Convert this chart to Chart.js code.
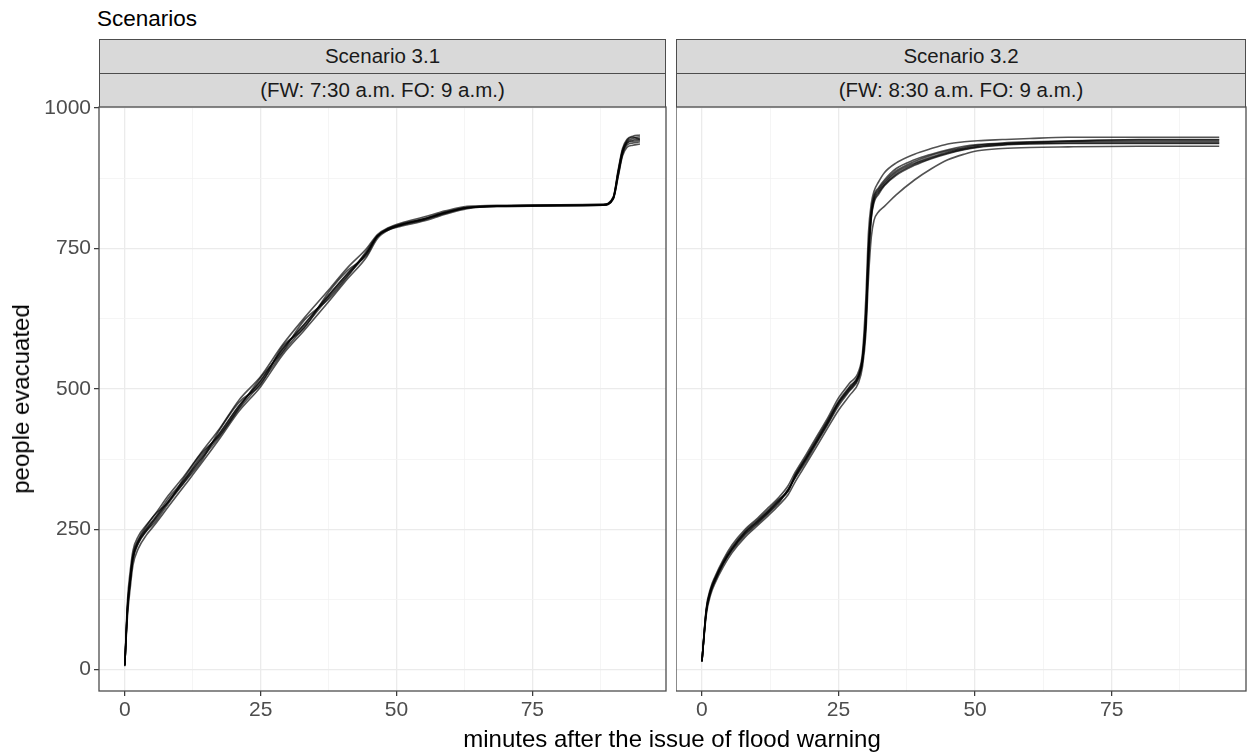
<!DOCTYPE html>
<html>
  <head>
    <meta charset="utf-8">
    <style>
      body { margin: 0; background: #fff; font-family: "Liberation Sans", Arial, sans-serif; }
      #page { position: relative; width: 1247px; height: 754px; overflow: hidden; }
      .strip { position: absolute; box-sizing: border-box; background: #d9d9d9; border: 1px solid #4d4d4d;
               color: #1a1a1a; font-size: 20.5px; text-align: center; line-height: 32px; }
      .abs { position: absolute; }
    </style>
  </head>
  <body>
    <div id="page">
      <div class="abs" style="left:97px;top:6px;font-size:22.5px;color:#000">Scenarios</div>

      <div class="strip" style="left:99px;top:39px;width:567px;height:35px">Scenario 3.1</div>
      <div class="strip" style="left:99px;top:73px;width:567px;height:35px">(FW: 7:30 a.m. FO: 9 a.m.)</div>
      <div class="strip" style="left:676px;top:39px;width:570px;height:35px">Scenario 3.2</div>
      <div class="strip" style="left:676px;top:73px;width:570px;height:35px">(FW: 8:30 a.m. FO: 9 a.m.)</div>

      <div class="abs" style="left:0;top:80px"><canvas id="panel31" width="672" height="660"></canvas></div>
      <div class="abs" style="left:676px;top:80px"><canvas id="panel32" width="571" height="660"></canvas></div>

      <div class="abs" style="left:21px;top:399px;font-size:24px;white-space:nowrap;transform:translate(-50%,-50%) rotate(-90deg)">people evacuated</div>
      <div class="abs" style="left:672px;top:739px;font-size:24px;white-space:nowrap;transform:translate(-50%,-50%)">minutes after the issue of flood warning</div>
    </div>

    <script src="https://cdn.jsdelivr.net/npm/chart.js@4"></script>
    <script>
      // axis ticks (majors get labels, the in-between ones are minor grid lines)
      var xTicks = [0, 12.5, 25, 37.5, 50, 62.5, 75, 87.5];
      var yTicks = [0, 125, 250, 375, 500, 625, 750, 875, 1000];

      // Scenario 3.1 - minutes and people evacuated, one array per run
      var minutes31 = [0, 0.5, 1, 1.5, 2.5, 4, 5.5, 8, 11, 14, 17.5, 21, 25, 29, 33, 37.5, 41, 44.5, 46.5, 48.5, 51, 55, 59, 63, 70, 80, 88, 89.9, 90.8, 91.6, 92.4, 93.5, 94.8];
      var run31a = [8, 110, 160, 200, 228, 250, 268, 300, 338, 376, 422, 470, 514, 570, 614, 666, 705, 742, 772, 785, 793, 802, 814, 823, 826, 827, 828, 840, 885, 922, 938, 943, 946];
      var run31b = [6, 124, 176, 212, 238, 258, 276, 310, 346, 386, 430, 480, 522, 578, 626, 676, 716, 750, 775, 787, 796, 806, 817, 825, 827, 828, 829, 842, 890, 928, 944, 950, 952];
      var run31c = [10, 96, 146, 186, 216, 240, 258, 290, 328, 366, 412, 460, 504, 560, 604, 655, 696, 735, 768, 783, 790, 799, 811, 821, 826, 827, 827, 838, 878, 915, 930, 934, 936];
      var run31d = [7, 115, 165, 205, 232, 256, 276, 298, 343, 384, 418, 466, 520, 566, 622, 660, 700, 746, 773, 786, 794, 803, 815, 823, 825, 826, 827, 841, 888, 925, 940, 946, 949];
      var run31e = [9, 105, 158, 198, 226, 248, 262, 296, 334, 370, 428, 476, 508, 575, 608, 672, 711, 738, 771, 783, 792, 801, 813, 822, 826, 827, 828, 839, 882, 918, 934, 938, 940];
      var run31f = [8, 112, 163, 202, 230, 252, 270, 305, 339, 380, 421, 469, 515, 571, 615, 667, 706, 743, 772, 785, 793, 803, 814, 823, 826, 827, 828, 840, 886, 924, 942, 948, 944];
      var run31g = [8, 108, 157, 196, 225, 247, 266, 299, 335, 374, 416, 464, 510, 564, 610, 663, 702, 741, 772, 784, 792, 801, 813, 822, 825, 826, 827, 839, 880, 920, 937, 941, 943];

      // Scenario 3.2
      var minutes32 = [0, 0.8, 1.6, 2.4, 3.9, 5.5, 7.9, 10, 12.1, 14, 15.8, 17.1, 19, 20.8, 23, 25, 27, 28.7, 29.4, 30, 30.5, 31, 31.5, 32.3, 33.4, 35.5, 38.9, 42, 45, 48, 50.5, 55, 60, 67, 80, 94.7];
      var run32a = [15, 105, 140, 160, 190, 215, 244, 262, 281, 300, 320, 345, 375, 404, 440, 475, 500, 523, 552, 620, 740, 810, 838, 852, 866, 885, 902, 913, 922, 928, 932, 936, 938, 940, 940, 940];
      var run32b = [14, 110, 146, 166, 196, 222, 250, 268, 288, 306, 328, 352, 382, 412, 448, 484, 510, 532, 565, 660, 780, 830, 852, 868, 885, 902, 918, 928, 936, 940, 942, 944, 946, 948, 948, 948];
      var run32c = [16, 98, 134, 154, 183, 208, 236, 255, 274, 292, 312, 335, 365, 394, 430, 462, 488, 512, 540, 598, 700, 770, 800, 815, 825, 845, 872, 892, 908, 918, 924, 928, 930, 931, 932, 932];
      var run32d = [15, 108, 143, 163, 193, 218, 247, 265, 284, 303, 318, 348, 378, 408, 444, 478, 504, 526, 558, 635, 755, 818, 845, 858, 872, 892, 908, 918, 926, 932, 935, 938, 940, 942, 943, 943];
      var run32e = [15, 102, 138, 158, 188, 212, 240, 258, 278, 296, 322, 342, 370, 400, 436, 470, 496, 519, 548, 612, 728, 803, 832, 846, 862, 880, 898, 910, 919, 926, 930, 934, 936, 937, 937, 937];
      var run32f = [14, 106, 142, 162, 191, 216, 245, 263, 282, 301, 321, 346, 376, 405, 442, 476, 502, 525, 555, 628, 748, 815, 842, 855, 869, 888, 905, 916, 924, 930, 934, 937, 939, 941, 944, 944];
      var run32g = [16, 104, 139, 159, 189, 214, 242, 260, 279, 298, 319, 343, 373, 402, 438, 473, 498, 521, 550, 616, 735, 806, 835, 849, 863, 882, 900, 911, 920, 927, 931, 935, 937, 938, 938, 938];

      var tickFont = { family: 'Liberation Sans', size: 21 };

      function toDatasets(minutes, runs) {
        return runs.map(function (run) {
          return {
            data: run.map(function (v, i) { return { x: minutes[i], y: v }; }),
            borderColor: 'rgba(0,0,0,0.68)',
            borderWidth: 1.6,
            pointRadius: 0,
            cubicInterpolationMode: 'monotone'
          };
        });
      }

      var panelBorder = {
        id: 'panelBorder',
        afterDraw: function (chart) {
          var a = chart.chartArea, c = chart.ctx;
          c.save();
          c.strokeStyle = '#4d4d4d';
          c.lineWidth = 1.3;
          c.strokeRect(a.left, a.top, a.right - a.left, a.bottom - a.top);
          c.restore();
        }
      };

      function isMajor(v, step) { return Math.abs(v / step - Math.round(v / step)) < 1e-6; }

      function panelOptions(withY) {
        return {
          responsive: false,
          animation: false,
          layout: { padding: { top: 27, right: withY ? 6 : 1, left: 0, bottom: 0 } },
          plugins: { legend: { display: false }, tooltip: { enabled: false } },
          scales: {
            x: {
              type: 'linear', min: -4.75, max: 99.6,
              afterBuildTicks: function (s) { s.ticks = xTicks.map(function (v) { return { value: v }; }); },
              afterFit: function (s) { s.height = 49; s.paddingLeft = 0; s.paddingRight = 0; },
              border: { display: false },
              grid: {
                color: function (ctx) { return isMajor(ctx.tick.value, 25) ? '#ebebeb' : '#f3f3f3'; },
                lineWidth: function (ctx) { return isMajor(ctx.tick.value, 25) ? 1.3 : 0.8; },
                tickColor: function (ctx) { return isMajor(ctx.tick.value, 25) ? '#333333' : 'rgba(0,0,0,0)'; },
                tickLength: 5, tickWidth: 1.2
              },
              ticks: {
                autoSkip: false, maxRotation: 0, padding: 2, color: '#4d4d4d', font: tickFont,
                callback: function (v) { return isMajor(v, 25) ? String(v) : ''; }
              }
            },
            y: {
              type: 'linear', min: -38, max: 1002,
              afterBuildTicks: function (s) { s.ticks = yTicks.map(function (v) { return { value: v }; }); },
              afterFit: function (s) { s.width = withY ? 99 : 0; s.paddingTop = 0; s.paddingBottom = 0; },
              border: { display: false },
              grid: {
                color: function (ctx) { return isMajor(ctx.tick.value, 250) ? '#ebebeb' : '#f3f3f3'; },
                lineWidth: function (ctx) { return isMajor(ctx.tick.value, 250) ? 1.3 : 0.8; },
                tickColor: function (ctx) { return isMajor(ctx.tick.value, 250) ? '#333333' : 'rgba(0,0,0,0)'; },
                drawTicks: withY, tickLength: 5, tickWidth: 1.2
              },
              ticks: {
                display: withY, autoSkip: false, padding: 3, color: '#4d4d4d', font: tickFont,
                callback: function (v) { return isMajor(v, 250) ? String(v) : ''; }
              }
            }
          }
        };
      }

      new Chart(document.getElementById('panel31').getContext('2d'), {
        type: 'line',
        data: { datasets: toDatasets(minutes31, [run31a, run31b, run31c, run31d, run31e, run31f, run31g]) },
        options: panelOptions(true),
        plugins: [panelBorder]
      });

      new Chart(document.getElementById('panel32').getContext('2d'), {
        type: 'line',
        data: { datasets: toDatasets(minutes32, [run32a, run32b, run32c, run32d, run32e, run32f, run32g]) },
        options: panelOptions(false),
        plugins: [panelBorder]
      });
    </script>
  </body>
</html>
